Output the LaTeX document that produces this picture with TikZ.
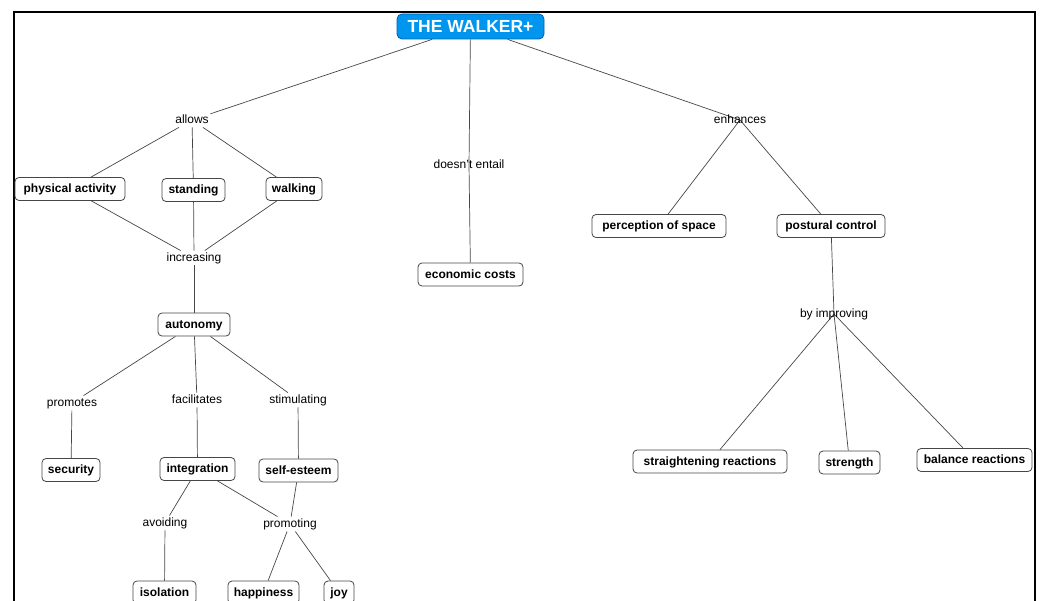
\documentclass[tikz,border=0pt]{standalone}
\usepackage{fontspec}
\setmainfont{Liberation Sans}
\pgfdeclarelayer{background}
\pgfsetlayers{background,main}
\definecolor{walkerblue}{RGB}{0,150,240}
\definecolor{walkeredge}{RGB}{0,95,175}
\definecolor{edgegray}{RGB}{70,70,70}
\begin{document}
\begin{tikzpicture}[x=1pt,y=-1pt,
  concept/.style={draw=edgegray, line width=0.8pt, rounded corners=4pt, fill=white,
    font=\fontsize{12}{14}\selectfont\bfseries, inner xsep=2pt, inner ysep=0pt,
    minimum height=23pt, text height=9.5pt, text depth=2pt},
  walkerbox/.style={draw=walkeredge, line width=0.8pt, rounded corners=5pt, fill=walkerblue,
    text=white, font=\fontsize{17.5}{20}\selectfont\bfseries, inner xsep=2pt, inner ysep=0pt,
    minimum width=147pt, minimum height=25pt, text height=12.5pt, text depth=1pt},
  phrase/.style={font=\fontsize{12}{14}\selectfont, inner sep=1.5pt, text height=9.5pt, text depth=2pt},
  link/.style={draw=edgegray, line width=0.7pt}]
\useasboundingbox (0,0) rectangle (1040,601);
\clip (0,0) rectangle (1040,601);

% frame
\draw[line width=2pt] (13.5,650) -- (13.5,12.5) -- (1035,12.5) -- (1035,650);

% nodes
\node[walkerbox] (walker) at (470.5,26.5) {THE WALKER+};
\node[phrase] (allows) at (192,120) {allows};
\node[phrase] (entail) at (469,165) {doesn't entail};
\node[phrase] (enh) at (740,120) {enhances};

\node[concept, minimum width=110pt] (pa) at (70,189) {physical activity};
\node[concept, minimum width=63pt] (stand) at (193.5,190) {standing};
\node[concept, minimum width=56pt] (walk) at (294,189) {walking};
\node[phrase] (incr) at (194,258) {increasing};
\node[concept, minimum width=72pt] (auto) at (194,324.5) {autonomy};
\node[phrase] (prom) at (72,403) {promotes};
\node[phrase] (facil) at (197,400) {facilitates};
\node[phrase] (stim) at (298,400) {stimulating};
\node[concept, minimum width=58pt] (sec) at (71,470) {security};
\node[concept, minimum width=75pt] (integ) at (197.5,469) {integration};
\node[concept, minimum width=79pt] (self) at (298.5,470.5) {self-esteem};
\node[phrase] (avoid) at (165,523) {avoiding};
\node[phrase] (promo) at (290,524) {promoting};
\node[concept, minimum width=63pt] (iso) at (164.5,592.5) {isolation};
\node[concept, minimum width=71pt] (happy) at (263.5,592.5) {happiness};
\node[concept, minimum width=30pt] (joy) at (339,592.5) {joy};

\node[concept, minimum width=105pt] (econ) at (470.5,274.5) {economic costs};
\node[concept, minimum width=134pt] (perc) at (659,226) {perception of space};
\node[concept, minimum width=108pt] (post) at (831,226) {postural control};
\node[phrase] (byimp) at (834,314) {by improving};
\node[concept, minimum width=154pt] (straight) at (710,461.5) {straightening reactions};
\node[concept, minimum width=61pt] (str) at (849.5,462.5) {strength};
\node[concept, minimum width=115pt] (bal) at (974.5,460) {balance reactions};

% connectors
\begin{pgfonlayer}{background}
\draw[link] (walker) -- (allows);
\draw[link] (allows) -- (pa);
\draw[link] (allows) -- (stand);
\draw[link] (allows) -- (walk);
\draw[link] (pa) -- (incr);
\draw[link] (stand) -- (incr);
\draw[link] (walk) -- (incr);
\draw[link] (incr) -- (auto);
\draw[link] (auto) -- (prom);
\draw[link] (auto) -- (facil);
\draw[link] (auto) -- (stim);
\draw[link] (prom) -- (sec);
\draw[link] (facil) -- (integ);
\draw[link] (stim) -- (self);
\draw[link] (integ) -- (avoid);
\draw[link] (avoid) -- (iso);
\draw[link] (integ) -- (promo);
\draw[link] (self) -- (promo);
\draw[link] (promo) -- (happy);
\draw[link] (promo) -- (joy);
\draw[link] (walker) -- (entail.center) -- (econ);
\draw[link] (walker) -- (enh.center);
\draw[link] (enh.center) -- (perc);
\draw[link] (enh.center) -- (post);
\draw[link] (post) -- (byimp.center);
\draw[link] (byimp.center) -- (straight);
\draw[link] (byimp.center) -- (str);
\draw[link] (byimp.center) -- (bal);
\end{pgfonlayer}
\end{tikzpicture}
\end{document}
